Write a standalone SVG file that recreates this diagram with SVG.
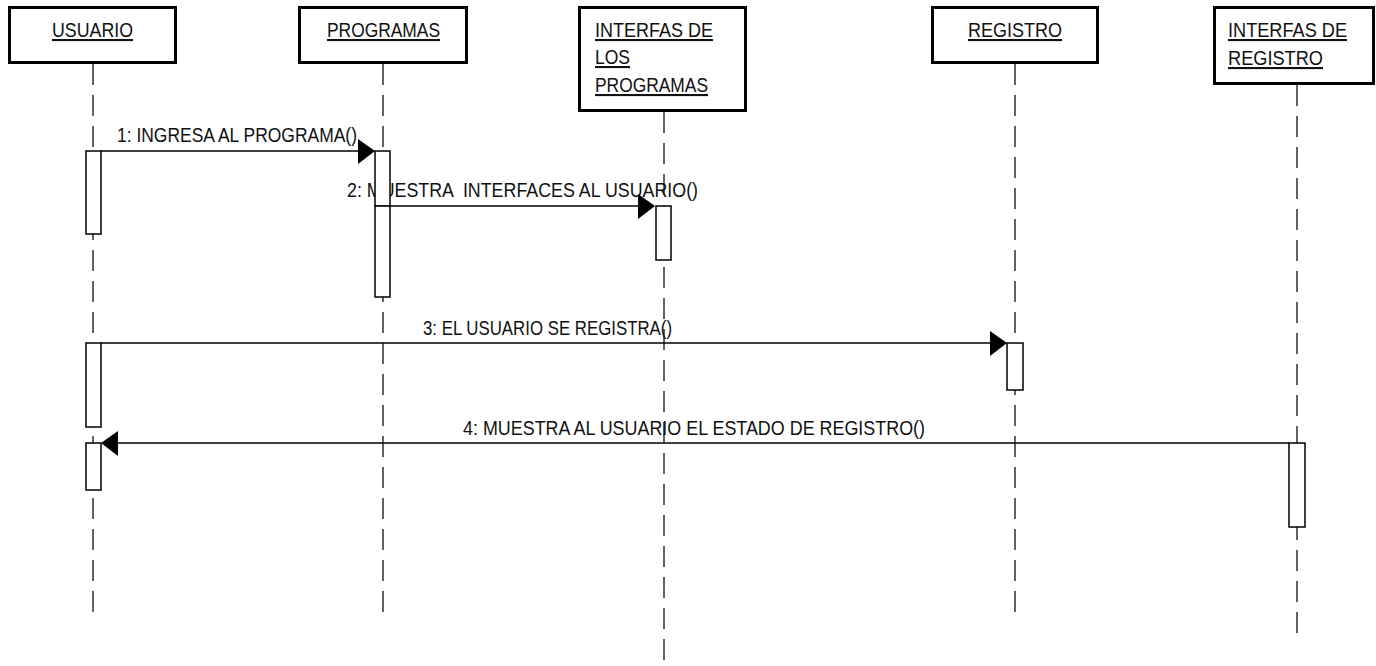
<svg xmlns="http://www.w3.org/2000/svg" width="1376" height="666" viewBox="0 0 1376 666">
<style>
  .box { fill: #fff; stroke: #000; stroke-width: 3; }
  .life { stroke: #222; stroke-width: 1.4; stroke-dasharray: 21 10; fill: none; }
  .act { fill: #fff; stroke: #000; stroke-width: 1.5; }
  .msg { stroke: #000; stroke-width: 1.5; fill: none; }
  .head { fill: #000; }
  text { font-family: "Liberation Sans", Arial, sans-serif; font-size: 21px; fill: #111; white-space: pre; }
  .title { text-decoration: underline; }
</style>
<g id="connectors">
  <line class="life" x1="93" y1="64" x2="93" y2="622"/>
  <line class="life" x1="383" y1="64" x2="383" y2="622"/>
  <line class="life" x1="664" y1="112" x2="664" y2="662"/>
  <line class="life" x1="1015" y1="64" x2="1015" y2="622"/>
  <line class="life" x1="1297" y1="85" x2="1297" y2="640"/>
  <line class="msg" x1="101" y1="151" x2="360" y2="151"/>
  <polygon class="head" points="375,151 358,139 358,164"/>
  <line class="msg" x1="390" y1="206" x2="640" y2="206"/>
  <polygon class="head" points="655,206 638,194 638,219"/>
  <line class="msg" x1="101" y1="343" x2="992" y2="343"/>
  <polygon class="head" points="1007,343 990,331 990,356"/>
  <line class="msg" x1="1289" y1="443" x2="116" y2="443"/>
  <polygon class="head" points="101,443 118,431 118,456"/>
  <text x="117" y="142" textLength="240" lengthAdjust="spacingAndGlyphs">1: INGRESA AL PROGRAMA()</text>
  <text x="347" y="197" textLength="351" lengthAdjust="spacingAndGlyphs" xml:space="preserve">2: MUESTRA  INTERFACES AL USUARIO()</text>
  <text x="423" y="335" textLength="249" lengthAdjust="spacingAndGlyphs">3: EL USUARIO SE REGISTRA()</text>
  <text x="463" y="435" textLength="462" lengthAdjust="spacingAndGlyphs">4: MUESTRA AL USUARIO EL ESTADO DE REGISTRO()</text>
</g>
<g id="usuario">
  <rect class="box" x="9.5" y="7.5" width="166" height="55"/>
  <text class="title" x="52" y="37" textLength="81" lengthAdjust="spacingAndGlyphs">USUARIO</text>
  <rect class="act" x="86" y="151" width="15" height="83"/>
  <rect class="act" x="86" y="343" width="15" height="84"/>
  <rect class="act" x="86" y="443" width="15" height="47"/>
</g>
<g id="programas">
  <rect class="box" x="299.5" y="7.5" width="167" height="55"/>
  <text class="title" x="327" y="37" textLength="113" lengthAdjust="spacingAndGlyphs">PROGRAMAS</text>
  <rect class="act" x="375" y="151" width="15" height="55"/>
  <rect class="act" x="375" y="206" width="15" height="91"/>
</g>
<g id="interfas-programas">
  <rect class="box" x="579.5" y="7.5" width="166" height="103"/>
  <text class="title" x="595" y="37" textLength="118" lengthAdjust="spacingAndGlyphs">INTERFAS DE</text>
  <text class="title" x="595" y="64" textLength="35" lengthAdjust="spacingAndGlyphs">LOS</text>
  <text class="title" x="595" y="92" textLength="113" lengthAdjust="spacingAndGlyphs">PROGRAMAS</text>
  <rect class="act" x="656" y="206" width="15" height="54"/>
</g>
<g id="registro">
  <rect class="box" x="932.5" y="7.5" width="165" height="55"/>
  <text class="title" x="968" y="37" textLength="94" lengthAdjust="spacingAndGlyphs">REGISTRO</text>
  <rect class="act" x="1007" y="343" width="16" height="47"/>
</g>
<g id="interfas-registro">
  <rect class="box" x="1214.5" y="7.5" width="159" height="76"/>
  <text class="title" x="1228" y="37" textLength="119" lengthAdjust="spacingAndGlyphs">INTERFAS DE</text>
  <text class="title" x="1228" y="65" textLength="95" lengthAdjust="spacingAndGlyphs">REGISTRO</text>
  <rect class="act" x="1289" y="443" width="16" height="84"/>
</g>
</svg>
